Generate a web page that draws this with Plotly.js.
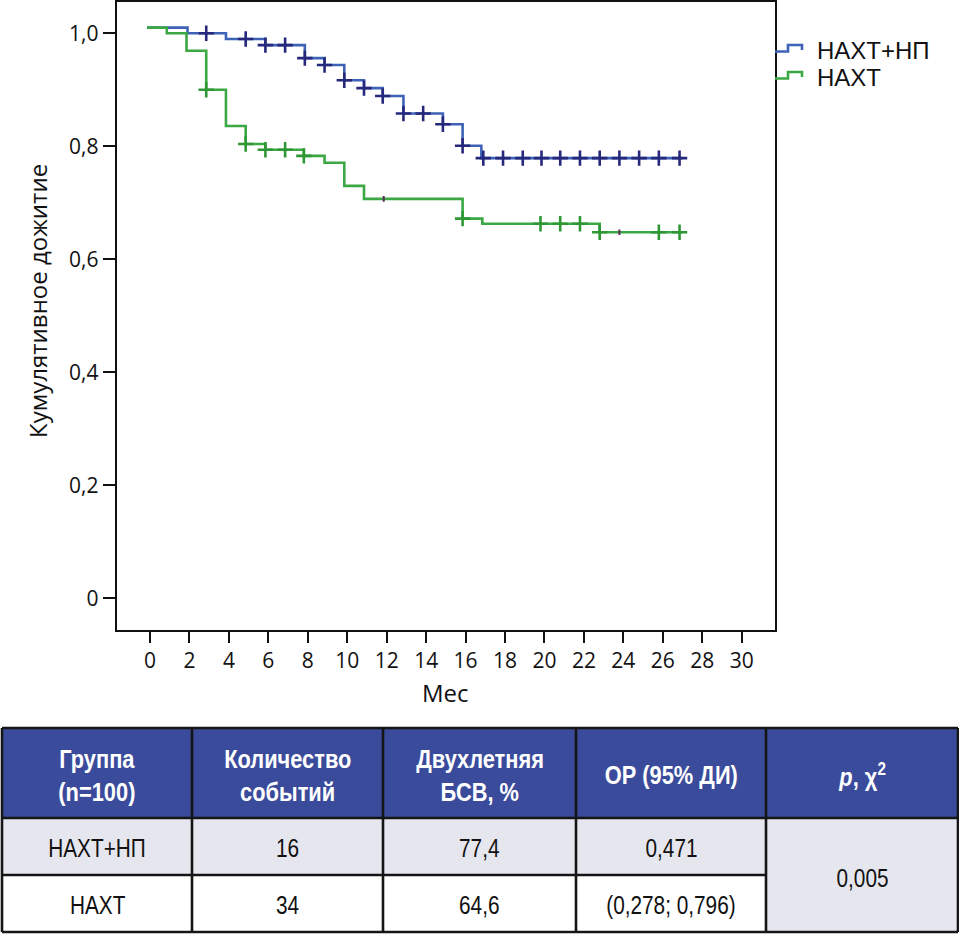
<!DOCTYPE html>
<html>
<head>
<meta charset="utf-8">
<script src="https://cdn.plot.ly/plotly-3.0.1.min.js"></script>
<style>html,body{margin:0;padding:0;background:#fff;}#chart{width:959px;height:945px;}</style>
</head>
<body>
<div id="chart"></div>
<script>
// ---------- data ----------
const seriesNames = ['НАХТ+НП', 'НАХТ'];

const blueTimes = [-0.15, 1.9, 3.85, 5.85, 7.85, 8.85, 9.85, 10.85, 11.8, 12.85, 14.85, 15.85, 16.8, 27.0];
const blueSurv  = [1.01, 1.0, 0.990, 0.979, 0.956, 0.944, 0.917, 0.903, 0.889, 0.858, 0.839, 0.801, 0.779, 0.779];
const blueCens  = [2.85, 4.85, 5.85, 6.85, 7.85, 8.85, 9.85, 10.85, 11.8, 12.85, 13.85, 14.85, 15.85, 16.9, 17.9, 18.9, 19.85, 20.8, 21.8, 22.8, 23.8, 24.8, 25.8, 26.85];

const greenTimes = [-0.15, 0.85, 1.85, 2.85, 3.85, 4.85, 5.85, 7.8, 8.85, 9.85, 10.85, 15.85, 16.85, 22.8, 27.0];
const greenSurv  = [1.01, 1.0, 0.969, 0.900, 0.836, 0.804, 0.794, 0.783, 0.771, 0.730, 0.707, 0.672, 0.663, 0.648, 0.648];
const greenCens  = [2.85, 4.85, 5.85, 6.85, 7.8, 15.85, 19.8, 20.8, 21.8, 22.8, 25.8, 26.85];
const greenFaintCens = [11.85, 23.8];

const xTickVals = [0, 2, 4, 6, 8, 10, 12, 14, 16, 18, 20, 22, 24, 26, 28, 30];
const yTickVals = [0, 0.2, 0.4, 0.6, 0.8, 1.0];
const yTickText = ['0', '0,2', '0,4', '0,6', '0,8', '1,0'];
const xTitle = 'Мес';
const yTitle = 'Кумулятивное дожитие';

// table
const tableHeader = [['Группа', '(n=100)'], ['Количество', 'событий'], ['Двухлетняя', 'БСВ, %'], ['ОР (95% ДИ)'], ['<i>p</i>, χ<sup>2</sup>']];
const groupCol  = ['НАХТ+НП', 'НАХТ'];
const eventsCol = ['16', '34'];
const bsvCol    = ['77,4', '64,6'];
const orCol     = ['0,471', '(0,278; 0,796)'];
const pValue    = '0,005';

// ---------- helpers ----------
const W = 959, H = 945;
const PX = x => x / W;
const PY = y => 1 - y / H;
function survAt(times, surv, t) {
  let s = surv[0];
  for (let i = 0; i < times.length; i++) if (times[i] <= t + 1e-9) s = surv[i];
  return s;
}

const blueColor = '#3e63b6', blueCensColor = '#26287c';
const greenColor = '#3ba843', greenCensColor = '#2e9835';

const traces = [
  {x: blueTimes, y: blueSurv, type: 'scatter', mode: 'lines', line: {shape: 'hv', color: blueColor, width: 2.6}, name: seriesNames[0], hoverinfo: 'skip'},
  {x: blueCens, y: blueCens.map(t => survAt(blueTimes, blueSurv, t)), type: 'scatter', mode: 'markers',
   marker: {symbol: 'cross-thin', size: 11, line: {width: 2.6, color: blueCensColor}}, hoverinfo: 'skip'},
  {x: greenTimes, y: greenSurv, type: 'scatter', mode: 'lines', line: {shape: 'hv', color: greenColor, width: 2.6}, name: seriesNames[1], hoverinfo: 'skip'},
  {x: greenCens, y: greenCens.map(t => survAt(greenTimes, greenSurv, t)), type: 'scatter', mode: 'markers',
   marker: {symbol: 'cross-thin', size: 11, line: {width: 2.6, color: greenCensColor}}, hoverinfo: 'skip'},
  {x: greenFaintCens, y: greenFaintCens.map(t => survAt(greenTimes, greenSurv, t)), type: 'scatter', mode: 'markers',
   marker: {symbol: 'line-ns', size: 4, line: {width: 2, color: '#5a2a5a'}}, hoverinfo: 'skip'}
];

const axisFont = {family: 'Open Sans, Noto Sans, sans-serif', size: 21, color: '#111'};
const titleFont = {family: 'Open Sans, Noto Sans, sans-serif', size: 24, color: '#111'};
const tableFont = 'Liberation Sans, Arial, sans-serif';

const shapes = [];
const annotations = [];
const condensed = {};   // annotation index -> horizontal scale

// legend (step-shaped glyphs, drawn as decoration)
const legendY = [50, 77];
const legendColors = [blueColor, greenColor];
legendY.forEach((cy, i) => {
  const x0 = PX(775), x1 = PX(788), x2 = PX(802);
  const yl = PY(cy + 1.5), yh = PY(cy - 5), ye = PY(cy);
  shapes.push({type: 'path', xref: 'paper', yref: 'paper',
    path: `M ${x0} ${yl} L ${x1} ${yl} L ${x1} ${yh} L ${x2} ${yh} L ${x2} ${ye}`,
    line: {color: legendColors[i], width: 2.6}});
  annotations.push({xref: 'paper', yref: 'paper', x: PX(815), y: PY(cy), xanchor: 'left', yanchor: 'middle',
    text: seriesNames[i], showarrow: false, font: {family: 'Liberation Sans, Arial, sans-serif', size: 24, color: '#111'}});
});

// axis titles
annotations.push({xref: 'paper', yref: 'paper', x: PX(445), y: PY(692), text: xTitle, showarrow: false,
  xanchor: 'center', yanchor: 'middle', font: titleFont});
annotations.push({xref: 'paper', yref: 'paper', x: PX(37), y: PY(301), text: yTitle, showarrow: false, textangle: -90,
  xanchor: 'center', yanchor: 'middle', font: titleFont});

// table geometry
const colX = [2, 192, 383, 576, 766, 958];
const rowY = [728, 818, 875, 932];
const headerFill = '#3b4b9b', grayFill = '#e6e7ee', borderColor = '#151515';
function rect(x0, y0, x1, y1, fill) {
  shapes.push({type: 'rect', xref: 'paper', yref: 'paper', x0: PX(x0), x1: PX(x1), y0: PY(y1), y1: PY(y0),
    fillcolor: fill, line: {width: 0}, layer: 'below'});
}
function line(x0, y0, x1, y1) {
  shapes.push({type: 'line', xref: 'paper', yref: 'paper', x0: PX(x0), x1: PX(x1), y0: PY(y0), y1: PY(y1),
    line: {color: borderColor, width: 2.6}});
}
rect(colX[0], rowY[0], colX[5], rowY[1], headerFill);
rect(colX[0], rowY[1], colX[4], rowY[2], grayFill);
rect(colX[4], rowY[1], colX[5], rowY[3], grayFill);
colX.forEach(x => line(x, rowY[0], x, rowY[3]));
line(colX[0], rowY[0], colX[5], rowY[0]);
line(colX[0], rowY[1], colX[5], rowY[1]);
line(colX[0], rowY[2], colX[4], rowY[2]);
line(colX[0], rowY[3], colX[5], rowY[3]);

function addTableText(text, cx, cy, size, color, scale) {
  condensed[annotations.length] = scale;
  annotations.push({xref: 'paper', yref: 'paper', x: PX(cx), y: PY(cy),
    text: text, showarrow: false, xanchor: 'center', yanchor: 'middle', align: 'center',
    font: {family: tableFont, size: size, color: color}});
}

tableHeader.forEach((lines, i) => {
  const cx = (colX[i] + colX[i + 1]) / 2;
  const ys = lines.length === 2 ? [759, 792] : [775];
  lines.forEach((t, k) => addTableText('<b>' + t + '</b>', cx, ys[k], 26, '#fff', 0.84));
});
const bodyCols = [groupCol, eventsCol, bsvCol, orCol];
bodyCols.forEach((col, c) => {
  col.forEach((v, r) => {
    addTableText(v, (colX[c] + colX[c + 1]) / 2, (rowY[r + 1] + rowY[r + 2]) / 2 + 1, 26, '#111', 0.8);
  });
});
addTableText(pValue, (colX[4] + colX[5]) / 2, 878, 26, '#111', 0.8);

const layout = {
  width: W, height: H,
  margin: {l: 0, r: 0, t: 0, b: 0},
  paper_bgcolor: '#fff', plot_bgcolor: '#fff',
  showlegend: false,
  xaxis: {domain: [116.7 / W, 775 / W], range: [-1.69, 31.69], tickvals: xTickVals, ticktext: xTickVals.map(String),
    ticks: 'outside', ticklen: 11, tickwidth: 2, tickcolor: '#111', showline: true, linewidth: 2, linecolor: '#111',
    mirror: true, showgrid: false, zeroline: false, tickfont: axisFont, fixedrange: true},
  yaxis: {domain: [1 - 630 / H, 1 - 2 / H], range: [-0.0561, 1.0554], tickvals: yTickVals, ticktext: yTickText,
    ticks: 'outside', ticklen: 12, tickwidth: 2, tickcolor: '#111', showline: true, linewidth: 2, linecolor: '#111',
    mirror: true, showgrid: false, zeroline: false, tickfont: axisFont, fixedrange: true},
  shapes: shapes,
  annotations: annotations
};

Plotly.newPlot('chart', traces, layout, {staticPlot: true, displayModeBar: false}).then(gd => {
  // narrow the table text horizontally, like the condensed face of the original
  gd.querySelectorAll('g.annotation').forEach(g => {
    const idx = +g.getAttribute('data-index');
    const s = condensed[idx];
    if (!s) return;
    const t = g.querySelector('text.annotation-text');
    if (!t) return;
    const bb = t.getBBox();
    const cx = bb.x + bb.width / 2;
    t.setAttribute('transform', `translate(${cx} 0) scale(${s} 1) translate(${-cx} 0)`);
  });
});
</script>
</body>
</html>
